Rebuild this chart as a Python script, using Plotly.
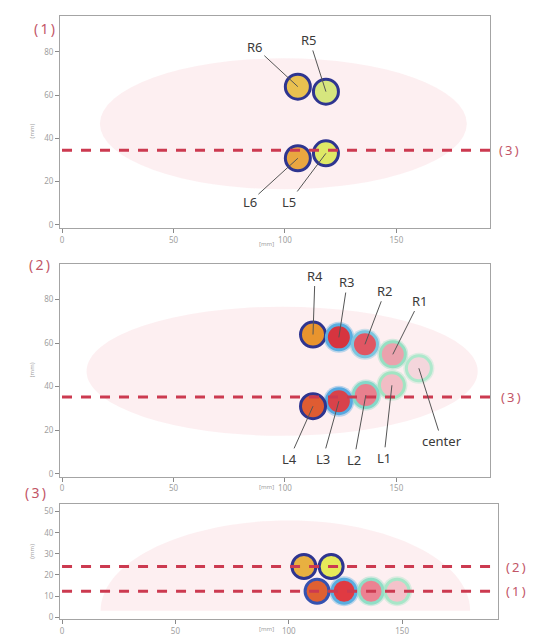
import plotly.graph_objects as go

W, H = 535, 639

# ---- panel (1): rows L/R at positions 5 and 6 ----
p1_names = ["R6", "R5", "L6", "L5"]
p1_x = [105.8, 118.4, 105.8, 118.4]
p1_y = [63.9, 61.6, 30.8, 33.1]
p1_fill = ["#e9c150", "#d6e67e", "#e9a640", "#dfe866"]
p1_ring = ["#2e3590", "#2e3590", "#2e3590", "#2e3590"]
p1_halo = ["rgba(0,0,0,0)"] * 4
p1_label_pos = {"R6": (86.5, 82.3), "R5": (111.0, 85.5), "L6": (84.3, 10.6), "L5": (102.0, 10.6)}
p1_cut = [34.5]
p1_cut_names = ["(3)"]

# ---- panel (2): rows L/R at positions 1-4 plus center ----
p2_names = ["R4", "R3", "R2", "R1", "center", "L1", "L2", "L3", "L4"]
p2_x = [112.6, 124.2, 135.9, 148.4, 160.1, 148.0, 136.3, 124.2, 112.6]
p2_y = [63.9, 62.6, 59.4, 54.8, 48.4, 40.6, 36.1, 33.3, 31.0]
p2_fill = ["#e8942e", "#d6343f", "#e05663", "#eaa2ad", "#f4d6dc",
           "#f2bdc5", "#e8808e", "#d8424a", "#df5c32"]
p2_ring = ["#2e3590", "#5aaee0", "#7cc6df", "#96dfc2", "#aee8cc",
           "#a2e4c2", "#84d8c8", "#55a8e0", "#2e3590"]
p2_halo = ["rgba(0,0,0,0)", "rgba(90,174,224,0.4)", "rgba(124,198,223,0.4)",
           "rgba(150,223,194,0.4)", "rgba(174,232,204,0.4)", "rgba(162,228,194,0.4)",
           "rgba(132,216,200,0.4)", "rgba(85,168,224,0.4)", "rgba(0,0,0,0)"]
p2_label_pos = {"R4": (113.5, 91.0), "R3": (128.0, 88.0), "R2": (145.0, 84.0),
                "R1": (160.5, 79.5), "center": (170.4, 15.0), "L1": (144.4, 7.3),
                "L2": (131.0, 6.4), "L3": (117.0, 6.8), "L4": (102.0, 6.8)}
p2_cut = [35.2]
p2_cut_names = ["(3)"]

# ---- panel (3): side view along the two cut lines ----
p3_x = [106.7, 118.7, 112.5, 124.4, 136.3, 147.8]
p3_y = [24.0, 24.0, 12.3, 12.3, 12.3, 12.3]
p3_fill = ["#e8b040", "#e6ea5a", "#df6032", "#e03a42", "#ec8292", "#f4c2ca"]
p3_ring = ["#2e3590", "#2e3590", "#3552b0", "#5aaee0", "#90dec6", "#a8e6c8"]
p3_halo = ["rgba(0,0,0,0)", "rgba(0,0,0,0)", "rgba(0,0,0,0)",
           "rgba(90,174,224,0.4)", "rgba(144,222,198,0.4)", "rgba(168,230,200,0.4)"]
p3_cut = [24.0, 12.3]
p3_cut_names = ["(2)", "(1)"]

x_ticks = [0, 50, 100, 150]
y_ticks_12 = [0, 20, 40, 60, 80]
y_ticks_3 = [0, 10, 20, 30, 40, 50]

RED = "#cc3a50"
LABEL_RED = "#c25566"
TICK_GREY = "#a0a0a0"
BODY = "rgba(249,212,219,0.38)"


def px_x(p):
    return p / W


def px_y(p):
    return 1 - p / H


fig = go.Figure()

panels = [
    dict(ax="", x=p1_x, y=p1_y, fill=p1_fill, ring=p1_ring, halo=p1_halo,
         xdom=[60, 490], ydom=[16, 229], xr=[-0.9, 192.0], yr=[-1.4, 96.6], yt=y_ticks_12,
         cut=p1_cut, cut_names=p1_cut_names, cut_label_x=[509], size=25),
    dict(ax="2", x=p2_x, y=p2_y, fill=p2_fill, ring=p2_ring, halo=p2_halo,
         xdom=[60, 490], ydom=[265, 479], xr=[-0.9, 192.0], yr=[-1.4, 96.4], yt=y_ticks_12,
         cut=p2_cut, cut_names=p2_cut_names, cut_label_x=[511], size=25),
    dict(ax="3", x=p3_x, y=p3_y, fill=p3_fill, ring=p3_ring, halo=p3_halo,
         xdom=[60, 498], ydom=[506, 622], xr=[-0.9, 192.3], yr=[-0.9, 53.8], yt=y_ticks_3,
         cut=p3_cut, cut_names=p3_cut_names, cut_label_x=[516, 516], size=24),
]

layout_axes = {}
shapes = []
annotations = []

for i, p in enumerate(panels):
    xa, ya = "x" + p["ax"], "y" + p["ax"]
    # glow around the rings
    fig.add_trace(go.Scatter(
        x=p["x"], y=p["y"], mode="markers", xaxis=xa, yaxis=ya, hoverinfo="skip",
        marker=dict(size=p["size"] + 6, color=p["halo"], line=dict(width=0))))
    # the measurement points
    fig.add_trace(go.Scatter(
        x=p["x"], y=p["y"], mode="markers", xaxis=xa, yaxis=ya,
        marker=dict(size=p["size"], color=p["fill"],
                    line=dict(width=3, color=p["ring"]))))
    # dashed cut lines, drawn over the points
    for cy in p["cut"]:
        fig.add_trace(go.Scatter(
            x=[0, p["xr"][1]], y=[cy, cy], mode="lines", xaxis=xa, yaxis=ya,
            hoverinfo="skip",
            line=dict(color=RED, width=3, dash="10px,9px")))

    # axes
    key = p["ax"]
    xdom = [px_x(p["xdom"][0]), px_x(p["xdom"][1])]
    ydom = [px_y(p["ydom"][1]), px_y(p["ydom"][0])]
    common = dict(showgrid=False, zeroline=False, showline=True, mirror=True,
                  linecolor="#a4a4a4", linewidth=1, ticks="outside", ticklen=4,
                  tickcolor="#8a8a8a", tickfont=dict(size=8, color=TICK_GREY,
                                                     family="Noto Sans"))
    layout_axes["xaxis" + key] = dict(common, domain=xdom, range=p["xr"],
                                      tickvals=x_ticks, anchor=ya)
    layout_axes["yaxis" + key] = dict(common, domain=ydom, range=p["yr"],
                                      tickvals=p["yt"], anchor=xa)

    # body outline (background)
    if i == 0:
        shapes.append(dict(type="circle", xref=xa, yref=ya, x0=17, x1=181.6, y0=16.5, y1=77,
                           fillcolor=BODY, line=dict(width=0), layer="below"))
    elif i == 1:
        shapes.append(dict(type="circle", xref=xa, yref=ya, x0=11, x1=186.5, y0=17.4, y1=76.7,
                           fillcolor=BODY, line=dict(width=0), layer="below"))
    else:
        shapes.append(dict(type="path", xref=xa, yref=ya,
                           path="M 17,3 C 17,26.7 54.2,45.8 100,45.8 C 144,45.8 180,26.7 180,3 Z",
                           fillcolor=BODY, line=dict(width=0), layer="below"))

    # cut line labels at the right
    for cy, name, lx in zip(p["cut"], p["cut_names"], p["cut_label_x"]):
        annotations.append(dict(x=px_x(lx), xref="paper", y=cy, yref=ya,
                                text=name.replace("(", "(\u2009").replace(")", "\u2009)"),
                                showarrow=False, xanchor="center", yanchor="middle",
                                font=dict(size=13, color=LABEL_RED, family="Noto Sans")))

    # axis unit labels
    annotations.append(dict(x=px_x(276), xref="paper", y=px_y(p["ydom"][1] + 16), yref="paper",
                            text="[mm]", showarrow=False, xanchor="right",
                            font=dict(size=6, color=TICK_GREY, family="Noto Sans")))
    annotations.append(dict(x=px_x(26), xref="paper",
                            y=px_y((p["ydom"][0] + p["ydom"][1]) / 2), yref="paper",
                            text="(mm)", textangle=-90, showarrow=False,
                            font=dict(size=6, color=TICK_GREY, family="Noto Sans")))

# panel titles
for text, lx, ly in [("(\u20091\u2009)", 32, 17), ("(\u20092\u2009)", 27, 266),
                     ("(\u20093\u2009)", 23, 506)]:
    annotations.append(dict(x=px_x(lx), y=px_y(ly), xref="paper", yref="paper", text=text,
                            showarrow=False, font=dict(size=14, color=LABEL_RED,
                                                       family="Noto Sans")))


# point labels with leader lines
def leader(names, xs, ys, pos, key):
    for n, x, y in zip(names, xs, ys):
        lx, ly = pos[n]
        annotations.append(dict(x=x, y=y, xref="x" + key, yref="y" + key,
                                ax=lx, ay=ly, axref="x" + key, ayref="y" + key,
                                text=n, showarrow=True, arrowhead=0, arrowwidth=1,
                                arrowcolor="#555555", standoff=0,
                                font=dict(size=13, color="#3a3a3a", family="Noto Sans")))


leader(p1_names, p1_x, p1_y, p1_label_pos, "")
leader(p2_names, p2_x, p2_y, p2_label_pos, "2")

fig.update_layout(width=W, height=H, margin=dict(l=0, r=0, t=0, b=0),
                  paper_bgcolor="white", plot_bgcolor="white", showlegend=False,
                  shapes=shapes, annotations=annotations, **layout_axes)

fig.write_html("out.html")
